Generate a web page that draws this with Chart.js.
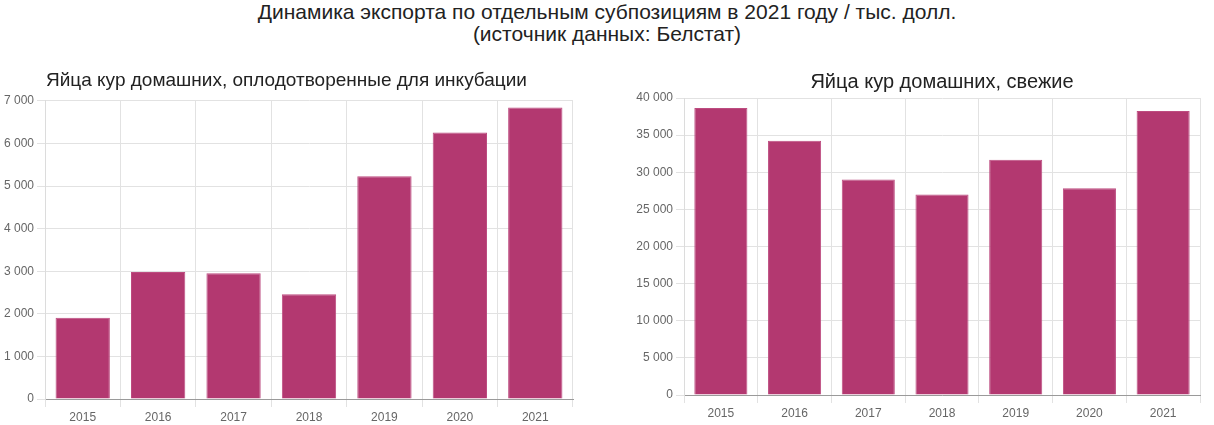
<!DOCTYPE html>
<html>
<head>
<meta charset="utf-8">
<script src="https://cdn.jsdelivr.net/npm/chart.js@4"></script>
<style>
  body { margin: 0; background: #fff; width: 1214px; height: 425px; overflow: hidden; position: relative; }
  #mainTitle { position: absolute; left: 0; top: 1px; width: 1214px; text-align: center;
    font-family: "Liberation Sans", Arial, sans-serif; font-size: 21px; line-height: 22px; color: #222; }
  .box { position: absolute; }
</style>
</head>
<body>
<div id="mainTitle">Динамика экспорта по отдельным субпозициям в 2021 году / тыс. долл.<br>(источник данных: Белстат)</div>
<div class="box" style="left:0;top:55px;width:580px;height:370px"><canvas id="chartHatch"></canvas></div>
<div class="box" style="left:610px;top:51px;width:604px;height:370px"><canvas id="chartFresh"></canvas></div>
<script>
document.addEventListener("DOMContentLoaded", function () {
  let years = ["2015", "2016", "2017", "2018", "2019", "2020", "2021"];
  let hatchData = [1905, 2980, 2950, 2460, 5230, 6255, 6845];
  let freshData = [38660, 34250, 29030, 27020, 31680, 27830, 38260];

  const barColor = "#b33870";
  const barBorder = "#bd4c80";

  function fmt(v) {
    return String(v).replace(/\B(?=(\d{3})+(?!\d))/g, " ");
  }

  function makeChart(id, title, data, yMax, yStep, opts) {
    return new Chart(document.getElementById(id), {
      type: "bar",
      data: {
        labels: years,
        datasets: [{
          data: data,
          backgroundColor: barColor,
          borderColor: barBorder,
          borderWidth: 1,
        }],
      },
      options: {
        responsive: true,
        maintainAspectRatio: false,
        animation: false,
        layout: { padding: { top: 0, bottom: 0, left: opts.padLeft, right: opts.padRight } },
        plugins: {
          legend: { display: false },
          tooltip: { enabled: false },
          title: {
            display: true,
            text: title,
            color: "#222",
            fullSize: opts.fullSize,
            font: { family: "'Liberation Sans', Arial, sans-serif", size: opts.titleSize, weight: "normal" },
            padding: { top: opts.titleTop, bottom: opts.titleBottom },
          },
        },
        scales: {
          x: {
            grid: { color: "#e2e2e2" },
            border: { color: "#9a9a9a" },
            ticks: { color: "#666", font: { size: 12, family: "'Liberation Sans', Arial, sans-serif" } },
            afterFit: function (s) { s.height = 26; },
          },
          y: {
            min: 0,
            max: yMax,
            grid: { color: "#e2e2e2" },
            border: { color: "#dcdcdc" },
            ticks: {
              stepSize: yStep,
              color: "#666",
              font: { size: 12, family: "'Liberation Sans', Arial, sans-serif" },
              callback: function (v) { return fmt(v); },
            },
            afterFit: function (s) { s.width = opts.axisWidth; },
          },
        },
      },
    });
  }

  makeChart("chartHatch", "Яйца кур домашних, оплодотворенные для инкубации", hatchData, 7000, 1000,
    { padLeft: 0, padRight: 7, axisWidth: 45, fullSize: true, titleSize: 19, titleTop: 14, titleBottom: 9 });
  makeChart("chartFresh", "Яйца кур домашних, свежие", freshData, 40000, 5000,
    { padLeft: 25, padRight: 14, axisWidth: 49, fullSize: false, titleSize: 20, titleTop: 19, titleBottom: 4 });
});
</script>
</body>
</html>
